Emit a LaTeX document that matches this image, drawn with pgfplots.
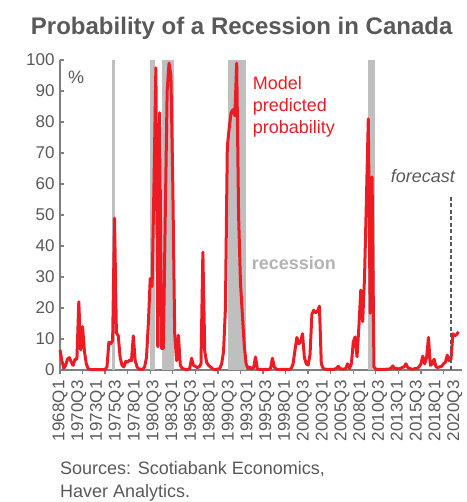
\documentclass[border=0pt]{standalone}
\usepackage{pgfplots}
\pgfplotsset{compat=1.18}
\usepackage{fontspec}
\setmainfont{Liberation Sans}
\definecolor{sred}{HTML}{ED1C24}
\definecolor{band}{HTML}{BFBFBF}
\definecolor{txt}{HTML}{595959}
\definecolor{axg}{HTML}{808080}
\definecolor{rectxt}{HTML}{B3B3B3}
\pgfplotstableread{
q v
0 6.5
1 3
2 0.5
3 1.5
4 3.5
5 4
6 2.5
7 1.5
8 3.5
9 3.5
10 22
11 6.5
12 14
13 6
14 2
15 0.4
16 0.2
17 0.1
18 0.1
19 0.1
20 0.1
21 0.1
22 0.1
23 0.1
24 0.2
25 1
26 9
27 8.5
28 9.5
29 49
30 12
31 11
32 4
33 1.5
34 1
35 2.8
36 2.5
37 3.2
38 3
39 11
40 3
41 1
42 0.3
43 0.2
44 0.2
45 1
46 4
47 15
48 29.5
49 27
50 60
51 97.5
52 7.5
53 83
54 7
55 7
56 50
57 90
58 99
59 95
60 60
61 12
62 3
63 11.2
64 1.5
65 0.5
66 0.3
67 0.2
68 0.2
69 0.5
70 3.8
71 1.5
72 1.2
73 0.8
74 1
75 2
76 38
77 6
78 2.5
79 1.5
80 1
81 0.5
82 0.2
83 0.2
84 0.3
85 0.5
86 2
87 6
88 20
89 72
90 78
91 83
92 84
93 82
94 99
95 50
96 28
97 18
98 8
99 2
100 0.5
101 1
102 0.3
103 0.8
104 4.2
105 0.3
106 0.2
107 0.2
108 0.2
109 0.2
110 0.2
111 0.2
112 0.5
113 3.8
114 1
115 0.3
116 0.2
117 0.2
118 0.2
119 0.2
120 0.2
121 0.2
122 0.2
123 0.5
124 2
125 6.4
126 10.5
127 8.5
128 9
129 11.7
130 4
131 2
132 1.6
133 5
134 18
135 19.3
136 18.5
137 19
138 20.6
139 2
140 0.5
141 0.3
142 0.2
143 0.2
144 0.2
145 0.2
146 0.3
147 0.5
148 1.2
149 0.5
150 0.3
151 0.3
152 0.5
153 2
154 0.5
155 2
156 9
157 10.7
158 4.3
159 14
160 25.8
161 15.6
162 30
163 55
164 81
165 18.3
166 62.3
167 1
168 0.3
169 0.2
170 0.2
171 0.2
172 0.2
173 0.2
174 0.3
175 0.3
176 0.5
177 1.3
178 0.5
179 0.5
180 0.3
181 0.5
182 0.8
183 1
184 2
185 0.8
186 0.5
187 0.3
188 0.3
189 0.5
190 0.5
191 1
192 2
193 4.5
194 2
195 4
196 10.5
197 1.5
198 2
199 3.5
200 1
201 0.8
202 1
203 1.2
204 2
205 2.5
206 4.8
207 3
208 3.5
209 11.7
210 11
211 11.5
212 12.3
}\probdata
\begin{document}
\begin{tikzpicture}
\begin{axis}[
  at={(60bp,132bp)}, anchor=south west,
  scale only axis, width=402.3bp, height=310bp,
  xmin=0, xmax=214, ymin=0, ymax=100,
  axis lines*=left,
  axis line style={axg, line width=1.3bp},
  tick align=inside,
  major tick length=3.5bp,
  tick style={axg, line width=1.3bp},
  ytick={0,10,...,100},
  xtick={0,10,...,210},
  xticklabels={1968Q1,1970Q3,1973Q1,1975Q3,1978Q1,1980Q3,1983Q1,1985Q3,1988Q1,1990Q3,1993Q1,1995Q3,1998Q1,2000Q3,2003Q1,2005Q3,2008Q1,2010Q3,2013Q1,2015Q3,2018Q1,2020Q3},
  major x tick style={draw=none},
  minor xtick={0,12,...,204},
  minor tick length=-4bp,
  /pgf/number format/assume math mode=true,
  ticklabel style={font=\fontsize{17bp}{20bp}\selectfont, text=txt},
  x tick label style={rotate=90, anchor=east},
  xticklabel shift=7bp,
  yticklabel shift=2bp,
  clip=false,
]
\addplot[fill=band, draw=none] coordinates {(27.5,0) (27.5,100) (29.3,100) (29.3,0)};
\addplot[fill=band, draw=none] coordinates {(47.9,0) (47.9,100) (50.5,100) (50.5,0)};
\addplot[fill=band, draw=none] coordinates {(54.3,0) (54.3,100) (60.6,100) (60.6,0)};
\addplot[fill=band, draw=none] coordinates {(89.5,0) (89.5,100) (98.9,100) (98.9,0)};
\addplot[fill=band, draw=none] coordinates {(164,0) (164,100) (167.6,100) (167.6,0)};
\addplot[sred, line width=3bp, line join=round, no marks] table[x=q, y=v] {\probdata};
\addplot[txt, dash pattern=on 4bp off 2.5bp, line width=1.2bp, no marks] coordinates {(208,0) (208,56.4)};
\end{axis}
\node[font=\bfseries\fontsize{24bp}{28bp}\selectfont, text=txt, anchor=base] at (241.7bp, 467bp) {Probability of a Recession in Canada};
\node[anchor=base west, font=\fontsize{18bp}{22bp}\selectfont, text=txt, inner sep=0] at (68bp, 418bp) {\%};
\node[anchor=base west, align=left, text=sred, font=\fontsize{18bp}{22bp}\selectfont, inner sep=0] at (252.7bp, 368bp) {Model\\predicted\\probability};
\node[anchor=base west, text=rectxt, font=\bfseries\fontsize{18bp}{22bp}\selectfont, inner sep=0] at (251.7bp, 232.5bp) {recession};
\node[anchor=base east, text=txt, font=\itshape\fontsize{18bp}{22bp}\selectfont, inner sep=0] at (455bp, 319.5bp) {forecast};
\node[anchor=base west, align=left, text=txt, font=\fontsize{18bp}{23bp}\selectfont, inner sep=0] at (60bp, 5bp) {Sources: Scotiabank Economics,\\Haver Analytics.};
\pgfresetboundingbox
\useasboundingbox (0,0) rectangle (467bp,502bp);
\end{tikzpicture}
\end{document}
